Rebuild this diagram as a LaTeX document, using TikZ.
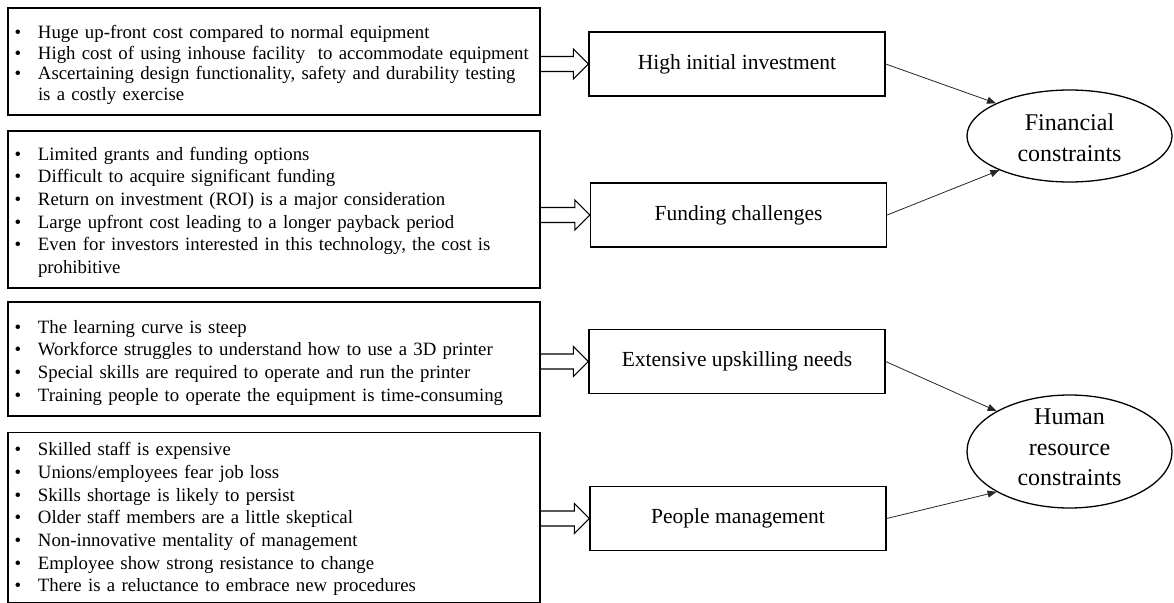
\documentclass[tikz,border=0pt]{standalone}
\usepackage{fontspec}
\setmainfont{Liberation Serif}
\usetikzlibrary{calc,arrows.meta,shapes.geometric}

% bulleted line with hanging indent, and a continuation line
\newcommand\bitem[1]{\par\hangindent=23.5pt\hangafter=1\noindent\hbox to 23.5pt{\textbullet\hfil}#1}
\newcommand\bcont[1]{\par\noindent\hspace*{23.5pt}#1}
% empty space below the last line, to lift the list inside its box
\newcommand\padbottom[1]{\par\nointerlineskip\vbox to #1{}}

\tikzset{
  listbox/.style={draw, line width=1.3pt, rectangle, minimum width=532pt,
    text width=519pt, inner xsep=6.5pt, inner ysep=0pt, align=left,
    font=\fontsize{18.8}{22.7}\selectfont},
  factor/.style={draw, line width=1.3pt, rectangle, minimum width=296pt,
    minimum height=64pt, inner sep=0pt, font=\fontsize{21.5}{26}\selectfont},
  goal/.style={draw, line width=1.3pt, ellipse, minimum width=205pt, inner sep=0pt},
  goaltext/.style={align=center, inner sep=0pt, font=\fontsize{24}{30.5}\selectfont},
  conn/.style={line width=0.8pt, draw=black!85, -{Triangle[length=9pt,width=7pt]}},
  blockarrow/.style={draw, line width=1.2pt,
    to path={let \p1=(\tikztostart), \p2=(\tikztotarget) in
      ({\x1},{\y2+7.5pt}) -- ({\x2-15pt},{\y2+7.5pt}) -- ({\x2-15pt},{\y2+15pt})
      -- (\p2) -- ({\x2-15pt},{\y2-15pt}) -- ({\x2-15pt},{\y2-7.5pt}) -- ({\x1},{\y2-7.5pt})}}
}

\begin{document}
\begin{tikzpicture}[x=1pt, y=-1pt]
  \fill[white] (0,0) rectangle (1174,602);
  \useasboundingbox (0,0) rectangle (1174,602);

  % left-hand lists of issues
  \node[listbox, minimum height=107pt, font=\fontsize{18.8}{20.5}\selectfont] (b1) at (274,61.5) {%
    \bitem{Huge up-front cost compared to normal equipment}%
    \bitem{High cost of using inhouse facility\ \ to accommodate equipment}%
    \bitem{Ascertaining design functionality, safety and durability testing}%
    \bcont{is a costly exercise}};
  \node[listbox, minimum height=157pt] (b2) at (274,209.5) {%
    \bitem{Limited grants and funding options}%
    \bitem{Difficult to acquire significant funding}%
    \bitem{Return on investment (ROI) is a major consideration}%
    \bitem{Large upfront cost leading to a longer payback period}%
    \bitem{Even for investors interested in this technology, the cost is}%
    \bcont{prohibitive}\padbottom{4pt}};
  \node[listbox, minimum height=114pt] (b3) at (274,359) {%
    \bitem{The learning curve is steep}%
    \bitem{Workforce struggles to understand how to use a 3D printer}%
    \bitem{Special skills are required to operate and run the printer}%
    \bitem{Training people to operate the equipment is time-consuming}\padbottom{2pt}};
  \node[listbox, minimum height=170pt] (b4) at (274,517.5) {%
    \bitem{Skilled staff is expensive}%
    \bitem{Unions/employees fear job loss}%
    \bitem{Skills shortage is likely to persist}%
    \bitem{Older staff members are a little skeptical}%
    \bitem{Non-innovative mentality of management}%
    \bitem{Employee show strong resistance to change}%
    \bitem{There is a reluctance to embrace new procedures}\padbottom{6pt}};

  % middle factors
  \node[factor] (hii) at (737,64)    {High initial investment};
  \node[factor] (fun) at (738.5,215) {Funding challenges};
  \node[factor] (ext) at (737,361.5) {Extensive upskilling needs};
  \node[factor] (ppl) at (738,518.5) {People management};

  % constraint groups
  \node[goal, minimum height=92pt]  (fin) at (1069.5,136) {};
  \node[goaltext] (fint) at ([yshift=-2pt]fin.center) {Financial\\constraints};
  \node[goal, minimum height=113pt] (hum) at (1069.5,451.5) {};
  \node[goaltext] (humt) at ([yshift=4pt]hum.center) {Human\\resource\\constraints};

  % hollow block arrows from lists to factors
  \draw[blockarrow] (b1.east) to (hii.west);
  \draw[blockarrow] (b2.east) to (fun.west);
  \draw[blockarrow] (b3.east) to (ext.west);
  \draw[blockarrow] (b4.east) to (ppl.west);

  % factors feeding the constraint groups
  \draw[conn] (hii.east) -- (fin.156);
  \draw[conn] (fun.east) -- (fin.-154);
  \draw[conn] (ext.east) -- (hum.151);
  \draw[conn] (ppl.east) -- (hum.-151);
\end{tikzpicture}
\end{document}
